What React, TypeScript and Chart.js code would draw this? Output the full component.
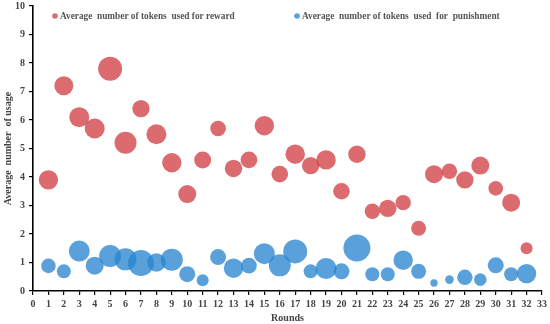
import React, { useEffect, useRef } from "react";
import { Chart, registerables } from "chart.js";

Chart.register(...registerables);

const rounds = [1,2,3,4,5,6,7,8,9,10,11,12,13,14,15,16,17,18,19,20,21,22,23,24,25,26,27,28,29,30,31,32];
const rewardValues = [3.9,7.2,6.1,5.7,7.8,5.2,6.4,5.5,4.5,3.4,4.6,5.7,4.3,4.6,5.8,4.1,4.8,4.4,4.6,3.5,4.8,2.8,2.9,3.1,2.2,4.1,4.2,3.9,4.4,3.6,3.1,1.5];
const rewardSizes = [9.7,9.5,10,10,12,11,8.7,10,9.7,9,8.5,7.8,8.7,8.3,9.7,8.3,9.7,8.7,9.7,8.3,8.7,7.7,8.7,7.7,7.5,9,7.7,8.7,9,7.3,9,6];
const punishValues = [0.88,0.69,1.4,0.89,1.23,1.11,0.98,1.0,1.1,0.59,0.38,1.19,0.8,0.89,1.31,0.9,1.39,0.69,0.79,0.69,1.51,0.59,0.59,1.08,0.69,0.28,0.4,0.48,0.4,0.9,0.59,0.61];
const punishSizes = [7.3,7,10.5,9,11,11,13,9.3,11,8,6,8,9.7,7.8,10.5,11,12,7,10.5,8,13.5,7,7,9.7,7.5,3.7,4.3,7.7,6.3,8,7,9.7];
const yTicks = [0,1,2,3,4,5,6,7,8,9,10];

const seriesLabels = [
  "Average  number of tokens  used for reward",
  "Average  number of tokens  used  for  punishment",
];

const FONT = "'Liberation Serif', 'Times New Roman', serif";

const legendPlugin = {
  id: "customLegend",
  afterDraw(chart: any) {
    const { ctx, chartArea } = chart;
    const xs = [chartArea.left + 22, chartArea.left + 264];
    const y = chartArea.top + 10;
    ctx.save();
    ctx.font = `bold 9.3px ${FONT}`;
    ctx.textBaseline = "middle";
    chart.data.datasets.forEach((ds: any, i: number) => {
      ctx.beginPath();
      ctx.fillStyle = ds.backgroundColor;
      ctx.arc(xs[i], y, 2.8, 0, Math.PI * 2);
      ctx.fill();
      ctx.fillStyle = "#555";
      ctx.textAlign = "left";
      ctx.fillText(ds.label, xs[i] + 5, y + 0.5);
    });
    ctx.restore();
  },
};

export default function App() {
  const ref = useRef<HTMLCanvasElement>(null);
  useEffect(() => {
    const chart = new Chart(ref.current!, {
      type: "bubble",
      data: {
        datasets: [
          {
            label: seriesLabels[0],
            data: rounds.map((x, i) => ({ x, y: rewardValues[i], r: rewardSizes[i] })),
            backgroundColor: "rgba(208,60,65,0.76)",
            borderWidth: 0,
          },
          {
            label: seriesLabels[1],
            data: rounds.map((x, i) => ({ x, y: punishValues[i], r: punishSizes[i] })),
            backgroundColor: "rgba(38,132,208,0.76)",
            borderWidth: 0,
          },
        ],
      },
      options: {
        animation: false,
        responsive: false,
        maintainAspectRatio: false,
        layout: { autoPadding: false, padding: { top: 6, right: 8, left: 2, bottom: 0 } },
        plugins: { legend: { display: false }, tooltip: { enabled: false } },
        scales: {
          x: {
            type: "linear",
            min: 0,
            max: 33,
            afterFit: (s: any) => { s.height = 33; s.paddingLeft = 0; s.paddingRight = 0; },
            ticks: {
              stepSize: 1,
              autoSkip: false,
              maxRotation: 0,
              padding: 3,
              color: "#444",
              font: { family: FONT, size: 10, weight: "bold" },
            },
            grid: { drawOnChartArea: false, tickLength: 4, color: "#000", lineWidth: 1.2 },
            border: { color: "#000", width: 1.6 },
            title: {
              display: true,
              text: "Rounds",
              color: "#444",
              padding: { top: 0, bottom: 0 },
              font: { family: FONT, size: 10, weight: "bold" },
            },
          },
          y: {
            min: 0,
            max: 10,
            afterFit: (s: any) => { s.width = 31; s.paddingTop = 0; s.paddingBottom = 0; },
            afterBuildTicks: (s: any) => { s.ticks = yTicks.map((v) => ({ value: v })); },
            ticks: {
              padding: 4,
              color: "#444",
              font: { family: FONT, size: 10, weight: "bold" },
            },
            grid: { drawOnChartArea: false, tickLength: 4, color: "#000", lineWidth: 1.2 },
            border: { color: "#000", width: 1.6 },
            title: {
              display: true,
              text: "Average  number  of usage",
              color: "#444",
              padding: { top: 0, bottom: 0 },
              font: { family: FONT, size: 10, weight: "bold" },
            },
          },
        },
      },
      plugins: [legendPlugin],
    } as any);
    return () => chart.destroy();
  }, []);
  return (
    <div style={{ position: "fixed", left: 0, top: 0, width: 550, height: 324, background: "#fff" }}>
      <canvas ref={ref} width={550} height={324} style={{ width: 550, height: 324 }} />
    </div>
  );
}
